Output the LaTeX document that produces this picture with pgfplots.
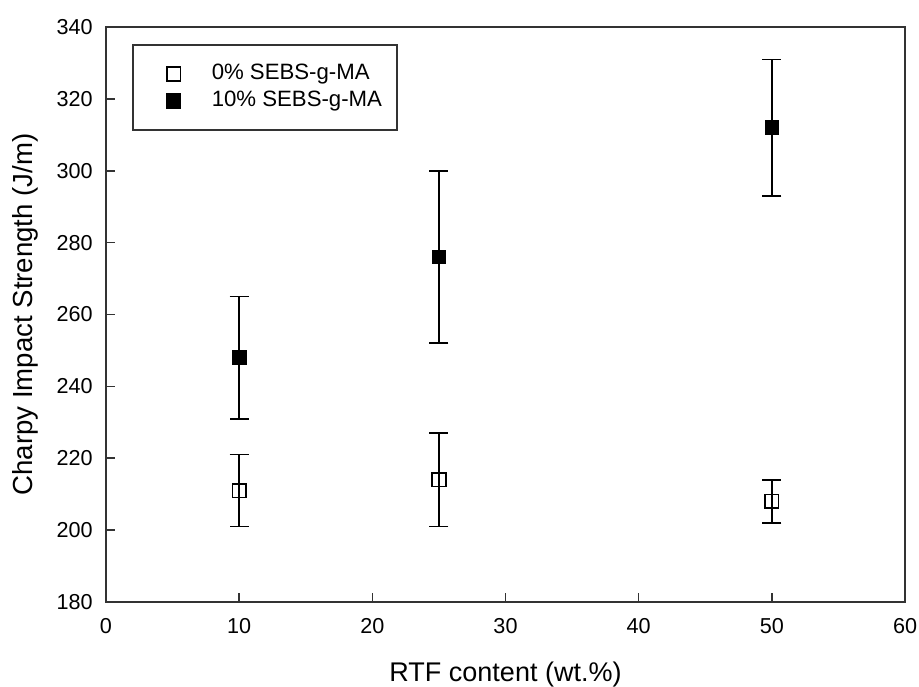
\documentclass[border=0pt]{standalone}
\usepackage{pgfplots}
\pgfplotsset{compat=1.18}
\usepackage{fontspec}
\setmainfont{Liberation Sans}
\begin{document}
\begin{tikzpicture}
\begin{axis}[
  scale only axis,
  width=399.5pt, height=287.5pt,
  xmin=0, xmax=60, ymin=180, ymax=340,
  xtick={0,10,...,60}, ytick={180,200,...,340},
  tick align=inside,
  xtick pos=bottom, ytick pos=left,
  major tick length=4.5pt,
  axis line style={line width=1pt, black!80},
  tick style={line width=0.8pt, black!80},
  /pgf/number format/assume math mode=true,
  ticklabel style={font=\fontsize{10.8}{13}\selectfont},
  xticklabel style={anchor=base, inner sep=0pt, yshift=-15.5pt},
  yticklabel style={anchor=east, inner sep=0pt, xshift=-6.5pt},
  xlabel={RTF content (wt.\%)},
  ylabel={Charpy Impact Strength (J/m)},
  xlabel style={font=\fontsize{13.5}{16}\selectfont, at={(axis description cs:0.5,0)}, anchor=base, inner sep=0pt, yshift=-39.5pt},
  ylabel style={font=\fontsize{13.8}{16}\selectfont, at={(axis description cs:0,0.5)}, anchor=base, inner sep=0pt, yshift=36.5pt},
  legend style={at={(0.0325,0.970)}, anchor=north west, draw=black!80, line width=0.8pt,
    inner xsep=5.5pt, inner ysep=7.75pt, font=\fontsize{11.1}{13}\selectfont,
    nodes={text height=8pt, text depth=2.5pt, inner ysep=1.5pt}},
  legend image code/.code={\draw[#1] plot coordinates {(0pt,0pt)};\path[draw=none,fill=none] (-15pt,0pt) (17pt,0pt);},
  legend cell align=left,
  error bars/error bar style={line width=0.8pt, black},
  error bars/error mark options={rotate=90, mark size=4.75pt, line width=0.8pt, black},
]
\coordinate (sw) at (rel axis cs:0,0);
\coordinate (ne) at (rel axis cs:1,1);
\addplot[only marks, mark=square, mark size=3.4pt, mark options={line width=0.8pt, fill=white, draw=black},
  error bars/.cd, y dir=both, y explicit]
  table[x=x, y=y, y error=e] {
x y e
10 211 10
25 214 13
50 208 6
};
\addlegendentry{0\% SEBS-g-MA}
\addplot[only marks, mark=square*, mark size=3.4pt, mark options={fill=black, draw=black},
  error bars/.cd, y dir=both, y explicit]
  table[x=x, y=y, y error=e] {
x y e
10 248 17
25 276 24
50 312 19
};
\addlegendentry{10\% SEBS-g-MA}
\end{axis}
\pgfresetboundingbox
\path ([shift={(-53pt,-42pt)}]sw) rectangle ([shift={(7pt,13.5pt)}]ne);
\end{tikzpicture}
\end{document}
